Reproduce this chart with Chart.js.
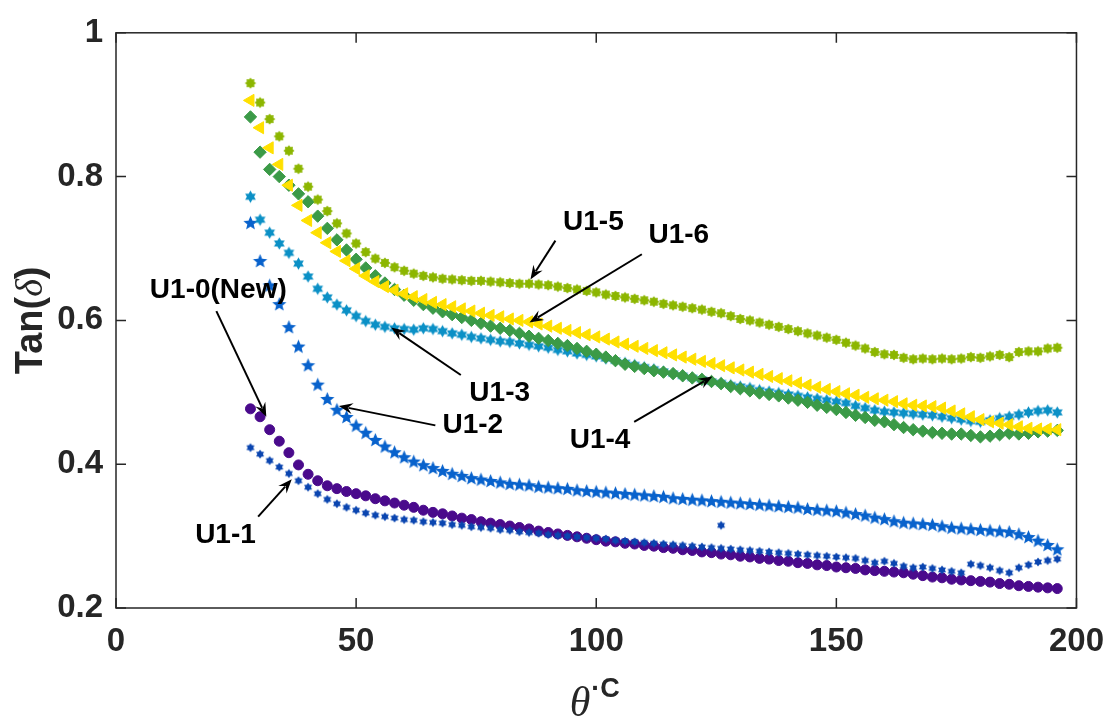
<!DOCTYPE html>
<html>
<head>
<meta charset="utf-8">
<title>Tan(delta) vs temperature</title>
<script src="https://cdn.jsdelivr.net/npm/chart.js@4.4.1/dist/chart.umd.min.js"></script>
<style>
  html, body { margin: 0; padding: 0; background: #fff; }
  canvas { display: block; }
</style>
</head>
<body>
<canvas id="tand" width="1118" height="722"></canvas>
<script>
// temperature (deg C), shared by every sample
var temps = [28,30,32,34,36,38,40,42,44,46,
  48,50,52,54,56,58,60,62,64,66,
  68,70,72,74,76,78,80,82,84,86,
  88,90,92,94,96,98,100,102,104,106,
  108,110,112,114,116,118,120,122,124,126,
  128,130,132,134,136,138,140,142,144,146,
  148,150,152,154,156,158,160,162,164,166,
  168,170,172,174,176,178,180,182,184,186,
  188,190,192,194,196];

var u10 = [0.477,0.466,0.448,0.432,0.416,0.399,0.386,0.377,0.370,0.366,
  0.362,0.359,0.356,0.352,0.349,0.346,0.343,0.340,0.336,0.333,
  0.331,0.328,0.325,0.323,0.320,0.318,0.316,0.314,0.312,0.310,
  0.307,0.305,0.303,0.301,0.299,0.297,0.295,0.293,0.292,0.290,
  0.289,0.287,0.286,0.284,0.283,0.281,0.280,0.278,0.277,0.275,
  0.274,0.272,0.271,0.269,0.268,0.266,0.265,0.263,0.262,0.260,
  0.259,0.257,0.256,0.255,0.253,0.252,0.251,0.250,0.249,0.247,
  0.245,0.243,0.242,0.240,0.239,0.238,0.237,0.236,0.234,0.233,
  0.231,0.230,0.229,0.228,0.227];

var u11 = [0.423,0.414,0.405,0.396,0.387,0.377,0.368,0.359,0.351,0.345,
  0.340,0.336,0.332,0.329,0.327,0.325,0.323,0.322,0.320,0.319,
  0.318,0.316,0.315,0.313,0.312,0.311,0.309,0.308,0.306,0.305,
  0.304,0.302,0.301,0.300,0.299,0.298,0.297,0.296,0.294,0.293,
  0.292,0.291,0.290,0.289,0.288,0.287,0.286,0.285,0.284,0.283,
  0.282,0.281,0.280,0.279,0.278,0.277,0.276,0.275,0.274,0.273,
  0.272,0.271,0.270,0.269,0.266,0.263,0.265,0.262,0.258,0.256,
  0.257,0.255,0.253,0.251,0.249,0.261,0.259,0.256,0.252,0.249,
  0.256,0.260,0.264,0.266,0.268];
// the single stray U1-1 reading
var u11StrayT = [126];
var u11Stray = [0.315];

var u12 = [0.735,0.682,0.648,0.622,0.590,0.563,0.537,0.510,0.490,0.475,
  0.465,0.453,0.443,0.433,0.424,0.416,0.409,0.403,0.398,0.394,
  0.390,0.386,0.383,0.380,0.378,0.376,0.374,0.372,0.371,0.370,
  0.368,0.367,0.366,0.365,0.363,0.362,0.361,0.360,0.359,0.358,
  0.357,0.356,0.355,0.354,0.352,0.351,0.350,0.349,0.348,0.347,
  0.346,0.345,0.344,0.343,0.342,0.341,0.340,0.339,0.337,0.336,
  0.335,0.334,0.332,0.330,0.328,0.325,0.323,0.320,0.318,0.317,
  0.316,0.315,0.313,0.311,0.310,0.309,0.308,0.307,0.306,0.305,
  0.302,0.298,0.293,0.287,0.281];

var u13 = [0.772,0.740,0.722,0.707,0.694,0.679,0.661,0.644,0.632,0.622,
  0.614,0.606,0.599,0.594,0.591,0.589,0.588,0.587,0.589,0.588,
  0.585,0.582,0.580,0.577,0.575,0.573,0.571,0.570,0.568,0.566,
  0.564,0.562,0.559,0.557,0.554,0.552,0.550,0.547,0.544,0.541,
  0.538,0.535,0.532,0.529,0.526,0.523,0.520,0.518,0.515,0.513,
  0.510,0.508,0.506,0.503,0.501,0.499,0.497,0.495,0.493,0.491,
  0.489,0.487,0.485,0.481,0.478,0.475,0.473,0.472,0.471,0.470,
  0.469,0.468,0.466,0.464,0.462,0.460,0.459,0.461,0.464,0.466,
  0.469,0.472,0.474,0.475,0.472];

var u14 = [0.883,0.834,0.810,0.800,0.788,0.776,0.765,0.745,0.728,0.712,
  0.698,0.685,0.673,0.662,0.652,0.643,0.635,0.628,0.622,0.617,
  0.612,0.608,0.604,0.600,0.596,0.592,0.589,0.586,0.582,0.578,
  0.575,0.572,0.568,0.565,0.561,0.557,0.553,0.549,0.544,0.539,
  0.536,0.533,0.530,0.528,0.526,0.523,0.520,0.518,0.515,0.512,
  0.508,0.505,0.502,0.499,0.497,0.495,0.492,0.489,0.486,0.482,
  0.479,0.476,0.472,0.468,0.465,0.461,0.459,0.455,0.451,0.448,
  0.446,0.444,0.443,0.442,0.442,0.440,0.438,0.439,0.441,0.443,
  0.442,0.443,0.445,0.446,0.447];

var u15 = [0.930,0.903,0.880,0.856,0.836,0.811,0.786,0.768,0.752,0.735,
  0.721,0.707,0.695,0.686,0.680,0.674,0.669,0.665,0.662,0.660,
  0.658,0.657,0.656,0.655,0.655,0.654,0.653,0.652,0.651,0.651,
  0.650,0.649,0.647,0.645,0.643,0.641,0.639,0.636,0.634,0.632,
  0.630,0.628,0.626,0.623,0.621,0.619,0.617,0.615,0.612,0.610,
  0.606,0.602,0.600,0.597,0.594,0.591,0.588,0.585,0.582,0.579,
  0.576,0.573,0.569,0.565,0.561,0.556,0.553,0.552,0.548,0.546,
  0.547,0.546,0.547,0.546,0.547,0.549,0.548,0.550,0.552,0.549,
  0.556,0.557,0.557,0.561,0.562];

var u16 = [0.906,0.868,0.840,0.817,0.788,0.760,0.739,0.722,0.708,0.696,
  0.683,0.672,0.662,0.654,0.647,0.642,0.637,0.633,0.629,0.625,
  0.622,0.619,0.616,0.613,0.610,0.607,0.605,0.602,0.600,0.598,
  0.595,0.592,0.589,0.586,0.583,0.580,0.577,0.574,0.570,0.567,
  0.564,0.561,0.558,0.555,0.552,0.549,0.546,0.543,0.540,0.537,
  0.534,0.531,0.528,0.525,0.522,0.519,0.516,0.513,0.510,0.507,
  0.504,0.501,0.498,0.496,0.493,0.491,0.489,0.487,0.484,0.482,
  0.481,0.480,0.478,0.474,0.470,0.466,0.462,0.459,0.457,0.455,
  0.452,0.450,0.449,0.449,0.448];

var xTicks = [0, 50, 100, 150, 200];
var yTicks = [0.2, 0.4, 0.6, 0.8, 1];

// labels with arrows, in data units: text centre, arrow tail, arrow tip
var notes = [
  { text: 'U1-0(New)', tx: 21.3, ty: 0.642, ax: 20.9, ay: 0.613, bx: 31.3, by: 0.466 },
  { text: 'U1-1', tx: 22.8, ty: 0.301, ax: 29.6, ay: 0.327, bx: 36.6, by: 0.379 },
  { text: 'U1-2', tx: 74.3, ty: 0.454, ax: 66.5, ay: 0.454, bx: 46.4, by: 0.481 },
  { text: 'U1-3', tx: 79.9, ty: 0.499, ax: 71.8, ay: 0.524, bx: 57.3, by: 0.590 },
  { text: 'U1-4', tx: 100.8, ty: 0.433, ax: 107.9, ay: 0.459, bx: 124.2, by: 0.522 },
  { text: 'U1-5', tx: 99.4, ty: 0.737, ax: 91.5, ay: 0.711, bx: 86.3, by: 0.657 },
  { text: 'U1-6', tx: 117.2, ty: 0.718, ax: 109.5, ay: 0.692, bx: 86.1, by: 0.597 }
];

function pts(ys) {
  return temps.map(function(t, i) { return { x: t, y: ys[i] }; });
}

// filled star marker drawn once on a small canvas
function starMark(n, outer, inner, color) {
  var size = Math.ceil(outer * 2 + 2);
  var c = document.createElement('canvas');
  c.width = size; c.height = size;
  var g = c.getContext('2d');
  g.fillStyle = color;
  g.beginPath();
  for (var i = 0; i < n * 2; i++) {
    var r = i % 2 === 0 ? outer : inner;
    var a = -Math.PI / 2 + i * Math.PI / n;
    var px = size / 2 + r * Math.cos(a), py = size / 2 + r * Math.sin(a);
    if (i === 0) g.moveTo(px, py); else g.lineTo(px, py);
  }
  g.closePath();
  g.fill();
  return c;
}

var sans = "'Liberation Sans', Arial, Helvetica, sans-serif";
var serif = "'Liberation Serif', 'DejaVu Serif', serif";
var ink = '#262626';

var boxAndNotes = {
  id: 'boxAndNotes',
  afterDatasetsDraw: function(chart) {
    var ctx = chart.ctx, a = chart.chartArea;
    var x = chart.scales.x, y = chart.scales.y;
    ctx.save();
    ctx.strokeStyle = ink;
    ctx.lineWidth = 1.5;
    ctx.strokeRect(a.left, a.top, a.right - a.left, a.bottom - a.top);
    ctx.beginPath();
    xTicks.forEach(function(v) {
      var px = x.getPixelForValue(v);
      ctx.moveTo(px, a.bottom); ctx.lineTo(px, a.bottom - 10);
      ctx.moveTo(px, a.top); ctx.lineTo(px, a.top + 10);
    });
    yTicks.forEach(function(v) {
      var py = y.getPixelForValue(v);
      ctx.moveTo(a.left, py); ctx.lineTo(a.left + 10, py);
      ctx.moveTo(a.right, py); ctx.lineTo(a.right - 10, py);
    });
    ctx.stroke();

    // annotations
    ctx.fillStyle = '#000';
    ctx.strokeStyle = '#000';
    ctx.lineWidth = 2;
    ctx.font = 'bold 28px ' + sans;
    ctx.textAlign = 'center';
    ctx.textBaseline = 'middle';
    notes.forEach(function(n) {
      ctx.fillText(n.text, x.getPixelForValue(n.tx), y.getPixelForValue(n.ty));
      var x0 = x.getPixelForValue(n.ax), y0 = y.getPixelForValue(n.ay);
      var x1 = x.getPixelForValue(n.bx), y1 = y.getPixelForValue(n.by);
      var dx = x1 - x0, dy = y1 - y0, len = Math.sqrt(dx * dx + dy * dy);
      var ux = dx / len, uy = dy / len;
      var hl = 14, hw = 5.5;
      ctx.beginPath();
      ctx.moveTo(x0, y0);
      ctx.lineTo(x1 - ux * hl * 0.7, y1 - uy * hl * 0.7);
      ctx.stroke();
      ctx.beginPath();
      ctx.moveTo(x1, y1);
      ctx.lineTo(x1 - ux * hl - uy * hw, y1 - uy * hl + ux * hw);
      ctx.lineTo(x1 - ux * hl * 0.65, y1 - uy * hl * 0.65);
      ctx.lineTo(x1 - ux * hl + uy * hw, y1 - uy * hl - ux * hw);
      ctx.closePath();
      ctx.fill();
    });
    ctx.restore();
  },
  afterDraw: function(chart) {
    var ctx = chart.ctx, a = chart.chartArea;
    ctx.save();
    ctx.fillStyle = ink;
    ctx.textBaseline = 'alphabetic';
    ctx.textAlign = 'left';

    // y title: Tan(δ)
    var f1 = 'bold 38px ' + sans, f2 = 'italic 38px ' + serif;
    ctx.font = f1; var w1 = ctx.measureText('Tan(').width, w3 = ctx.measureText(')').width;
    ctx.font = f2; var w2 = ctx.measureText('δ').width;
    var tot = w1 + w2 + w3;
    ctx.translate(42, (a.top + a.bottom) / 2);
    ctx.rotate(-Math.PI / 2);
    ctx.font = f1; ctx.fillText('Tan(', -tot / 2, 0);
    ctx.font = f2; ctx.fillText('δ', -tot / 2 + w1, 0);
    ctx.font = f1; ctx.fillText(')', -tot / 2 + w1 + w2, 0);
    ctx.setTransform(1, 0, 0, 1, 0, 0);

    // x title: θ·C
    ctx.font = 'italic 42px ' + serif;
    var wt = ctx.measureText('θ').width;
    ctx.font = 'bold 27px ' + sans;
    var wc = ctx.measureText('·C').width;
    var sx = (a.left + a.right) / 2 - (wt + wc) / 2 - 2;
    ctx.font = 'italic 42px ' + serif;
    ctx.fillText('θ', sx, 716);
    ctx.font = 'bold 27px ' + sans;
    ctx.fillText('·C', sx + wt + 1, 697);
    ctx.restore();
  }
};

var ctx = document.getElementById('tand').getContext('2d');

var u11Points = pts(u11).concat(u11StrayT.map(function(t, i) { return { x: t, y: u11Stray[i] }; }));

var myChart = new Chart(ctx, {
  type: 'scatter',
  data: {
    datasets: [
      { label: 'U1-0(New)', data: pts(u10), pointStyle: 'circle', pointRadius: 5,
        backgroundColor: '#4a0a8c', borderColor: '#4a0a8c', borderWidth: 1, order: 6 },
      { label: 'U1-1', data: u11Points, pointStyle: starMark(6, 4.6, 2.8, '#0a45b0'), pointRadius: 4,
        backgroundColor: '#0a45b0', borderColor: '#0a45b0', order: 5 },
      { label: 'U1-2', data: pts(u12), pointStyle: starMark(5, 7.5, 3.3, '#0862cc'), pointRadius: 6,
        backgroundColor: '#0862cc', borderColor: '#0862cc', order: 4 },
      { label: 'U1-3', data: pts(u13), pointStyle: starMark(6, 6.2, 3.6, '#0b90c6'), pointRadius: 5,
        backgroundColor: '#0b90c6', borderColor: '#0b90c6', order: 3 },
      { label: 'U1-4', data: pts(u14), pointStyle: 'rectRot', pointRadius: 6.2,
        backgroundColor: '#3b9a47', borderColor: '#3b9a47', borderWidth: 1, order: 2 },
      { label: 'U1-5', data: pts(u15), pointStyle: starMark(8, 5.6, 4, '#8cb600'), pointRadius: 5,
        backgroundColor: '#8cb600', borderColor: '#8cb600', order: 1 },
      { label: 'U1-6', data: pts(u16), pointStyle: 'triangle', rotation: -90, pointRadius: 7,
        backgroundColor: '#ffe000', borderColor: '#ffe000', borderWidth: 1, order: 0 }
    ]
  },
  options: {
    responsive: false,
    animation: false,
    layout: { padding: { top: 21, right: 36, left: 0, bottom: 0 } },
    plugins: { legend: { display: false }, tooltip: { enabled: false } },
    scales: {
      x: {
        type: 'linear', min: 0, max: 200,
        afterBuildTicks: function(s) { s.ticks = xTicks.map(function(v) { return { value: v }; }); },
        afterFit: function(s) { s.height = 114; },
        grid: { display: false, drawTicks: false },
        border: { display: false },
        ticks: { color: ink, padding: 14, maxRotation: 0,
          font: { family: sans, size: 33, weight: 'bold' } }
      },
      y: {
        type: 'linear', min: 0.2, max: 1,
        afterBuildTicks: function(s) { s.ticks = yTicks.map(function(v) { return { value: v }; }); },
        afterFit: function(s) { s.width = 116; },
        grid: { display: false, drawTicks: false },
        border: { display: false },
        ticks: { color: ink, padding: 13,
          font: { family: sans, size: 33, weight: 'bold' },
          callback: function(v) { return Math.abs(v - 1) < 1e-9 ? '1' : v.toFixed(1); } }
      }
    }
  },
  plugins: [boxAndNotes]
});
</script>
</body>
</html>
